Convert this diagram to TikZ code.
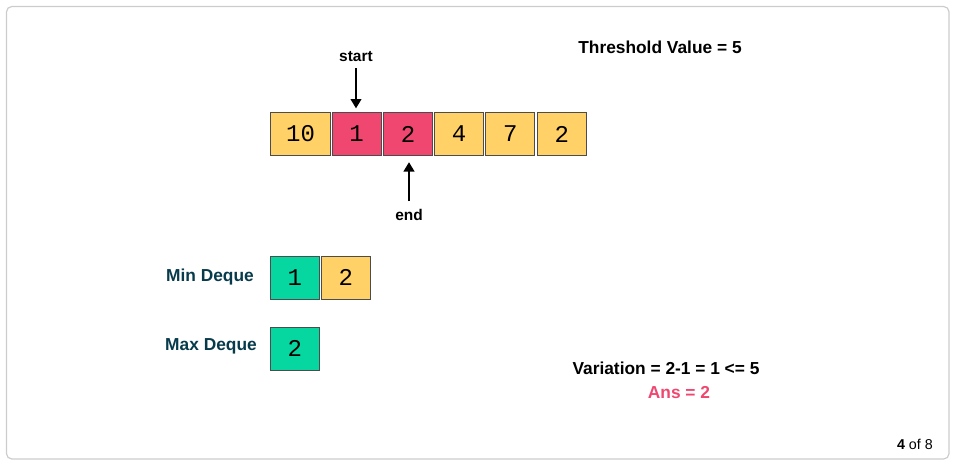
\documentclass[tikz,border=0pt]{standalone}
\usepackage{fontspec}
\setmainfont{Liberation Sans}
\newfontfamily\cellfont{Liberation Mono}
\usetikzlibrary{arrows.meta}
\definecolor{cyel}{HTML}{FFD166}
\definecolor{cred}{HTML}{EF476F}
\definecolor{cgrn}{HTML}{06D6A0}
\definecolor{cnavy}{HTML}{073B4C}
\definecolor{cframe}{HTML}{CCCCCC}
\tikzset{
  cell/.style={draw=black!70, line width=0.75pt, minimum width=36.75pt, minimum height=32.5pt, inner sep=0pt, font=\cellfont\fontsize{18}{18}\selectfont},
  wide/.style={minimum width=45.5pt},
  lbl/.style={inner sep=0pt, font=\bfseries\fontsize{13}{13}\selectfont},
  small/.style={inner sep=0pt, font=\bfseries\fontsize{11.6}{11.6}\selectfont},
  dq/.style={lbl, text=cnavy},
  ptr/.style={line width=1.4pt, -{Triangle[length=7pt,width=8pt]}},
}
\begin{document}
\begin{tikzpicture}[x=0.75pt,y=-0.75pt]
\useasboundingbox (0,0) rectangle (956,465);
\draw[cframe, line width=0.9pt, rounded corners=4pt] (6.5,6.5) rectangle (949,459);
% array
\node[cell, wide, fill=cyel] (a0) at (300.5,134) {10};
\node[cell, fill=cred] (a1) at (356.5,134) {1};
\node[cell, fill=cred] (a2) at (408,134) {2};
\node[cell, fill=cyel] (a3) at (459,134) {4};
\node[cell, fill=cyel] (a4) at (510.3,134) {7};
\node[cell, fill=cyel] (a5) at (561.8,134) {2};
% pointers
\node[small] (start) at (356,57) {start};
\node[small] (end) at (409,215) {end};
\draw[ptr, shorten <=4.5pt, shorten >=2.6pt] (start.south) -- (start.south |- a1.north);
\draw[ptr, shorten <=6pt, shorten >=4.5pt] (end.north) -- (end.north |- a2.south);
% threshold
\node[lbl] (thr) at (660,47.5) {Threshold Value = 5};
% deques
\node[dq] (minl) at (210,277.5) {Min Deque};
\node[cell, fill=cgrn] (m0) at (294.7,277.7) {1};
\node[cell, fill=cyel] (m1) at (345.7,277.7) {2};
\node[dq] (maxl) at (211,346) {Max Deque};
\node[cell, fill=cgrn] (x0) at (294.7,348.7) {2};
% result
\node[lbl] (var) at (666,368) {Variation = 2-1 = 1 <= 5};
\node[lbl, text=cred] (ans) at (679,392.5) {Ans = 2};
% page
\node[inner sep=0pt, font=\fontsize{10.7}{10.7}\selectfont, anchor=east] (page) at (933,444) {\textbf{4} of 8};
\end{tikzpicture}
\end{document}
